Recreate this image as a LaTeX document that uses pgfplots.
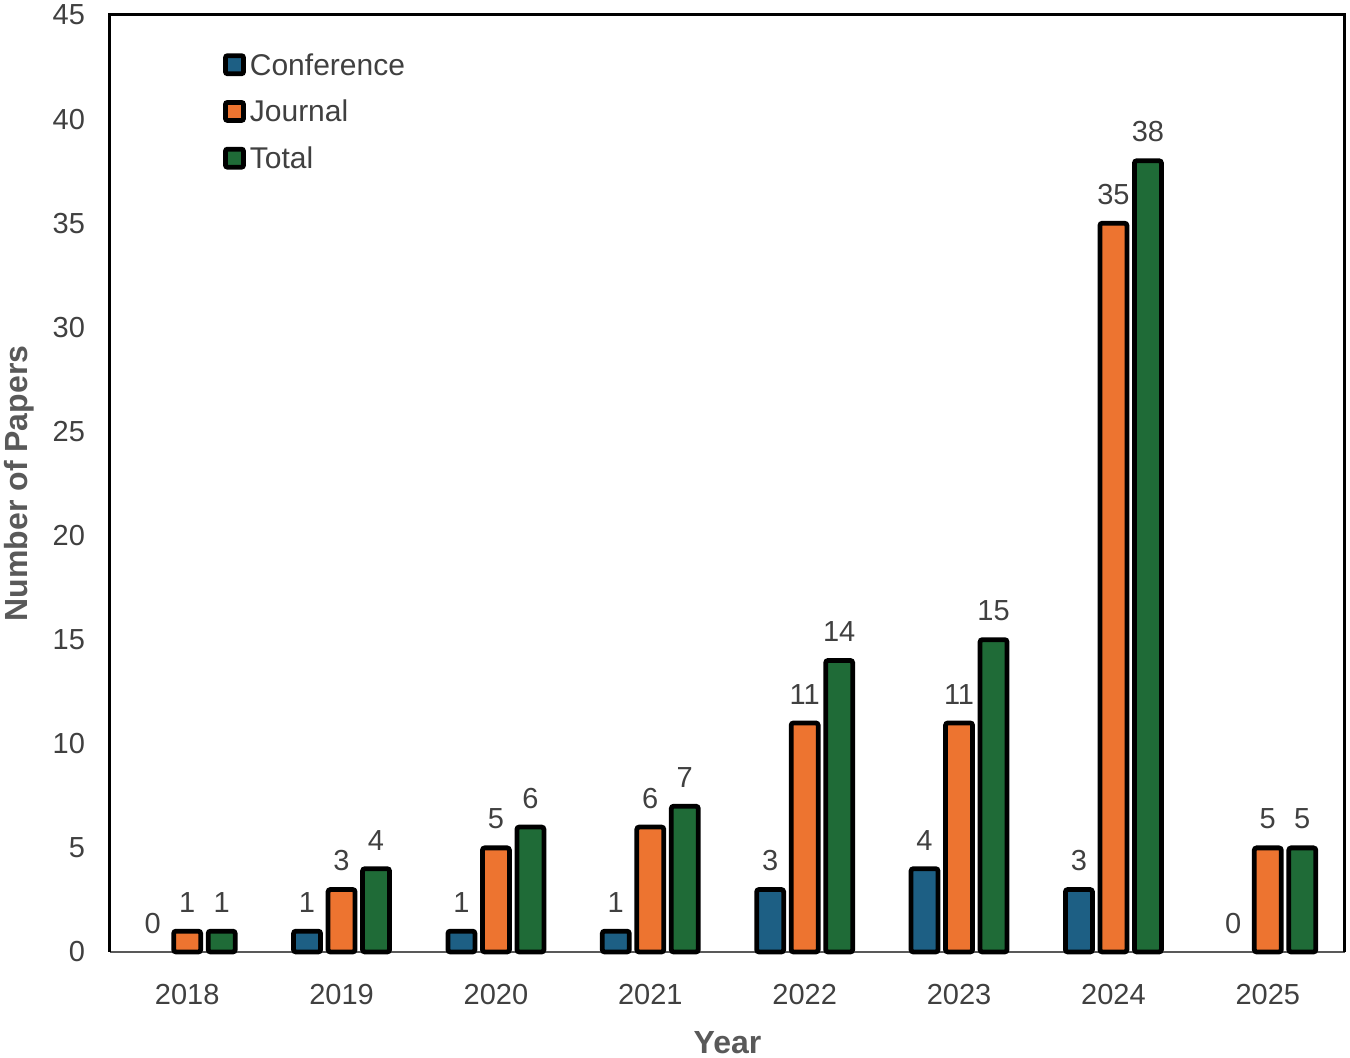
\documentclass[border=0pt]{standalone}
\usepackage{fontspec}
\setmainfont{Liberation Sans}
\usepackage{xcolor}
\usepackage{pgfplots}
\pgfplotsset{compat=1.18}
\pgfkeys{/pgf/number format/assume math mode=true}

\definecolor{confblue}{HTML}{1D5F84}
\definecolor{journorange}{HTML}{ED7430}
\definecolor{totgreen}{HTML}{1F6B37}
\definecolor{ticktext}{HTML}{404040}
\definecolor{labeltext}{HTML}{595959}

\pgfplotsset{
    paperbar/.style={
        ybar, bar width=13.5pt, draw=black, line width=2.4pt,
        rounded corners=1.2pt,
        nodes near coords,
        every node near coord/.append style={font=\fontsize{14.5pt}{16pt}\selectfont, color=ticktext, yshift=6pt, line width=0pt},
        legend image code/.code={
            \draw[##1, line width=2.4pt, rounded corners=1pt] (-4.5pt,-4pt) rectangle (4.5pt,5pt);
        }
    }
}

\begin{document}
\begin{tikzpicture}
    \useasboundingbox (-55pt,-53pt) rectangle (620pt,476pt);
    \begin{axis}[
        at={(0,0)}, anchor=south west,
        scale only axis,
        width=617.5pt, height=468.5pt,
        xmin=-0.5, xmax=7.5,
        ymin=0, ymax=45,
        enlargelimits=false,
        xtick={0,...,7},
        xticklabels={2018,2019,2020,2021,2022,2023,2024,2025},
        ytick={0,5,...,45},
        major tick length=0pt,
        axis line style={draw=none},
        tick label style={font=\fontsize{14.5pt}{16pt}\selectfont, color=ticktext},
        yticklabel style={xshift=-9pt},
        xticklabel style={yshift=-12.5pt},
        xlabel={Year},
        ylabel={Number of Papers},
        xlabel style={at={(axis description cs:0.5,-0.097)}, anchor=center,
            font=\fontsize{16pt}{18pt}\selectfont\bfseries, color=labeltext},
        ylabel style={at={(axis description cs:-0.0735,0.5)}, anchor=center, rotate=0,
            font=\fontsize{16pt}{18pt}\selectfont\bfseries, color=labeltext},
        legend style={
            at={(axis description cs:0.0864,0.968)}, anchor=north west,
            draw=none, fill=none,
            font=\fontsize{15pt}{17pt}\selectfont, text=ticktext,
            row sep=7pt,
            legend cell align=left
        },
        clip=false
    ]
    % bottom line thin grey, other three sides thick black
    \draw[color=labeltext, line width=1pt] (rel axis cs:0,0) -- (rel axis cs:1,0);
    \draw[black, line width=1.5pt] (rel axis cs:0,0) -- (rel axis cs:0,1) -- (rel axis cs:1,1) -- (rel axis cs:1,0);

    \addplot[paperbar, fill=confblue, bar shift=-17.25pt,
        every node near coord/.append style={xshift=-17.25pt}] coordinates {
        (1,1) (2,1) (3,1) (4,3) (5,4) (6,3)
    };
    \addplot[paperbar, fill=journorange, bar shift=0pt] coordinates {
        (0,1) (1,3) (2,5) (3,6) (4,11) (5,11) (6,35) (7,5)
    };
    \addplot[paperbar, fill=totgreen, bar shift=17.25pt,
        every node near coord/.append style={xshift=17.25pt}] coordinates {
        (0,1) (1,4) (2,6) (3,7) (4,14) (5,15) (6,38) (7,5)
    };
    % zero conference counts: label only, no bar
    \addplot[paperbar, draw=none, fill=none, bar shift=-17.25pt, forget plot,
        every node near coord/.append style={xshift=-17.25pt}] coordinates {
        (0,0) (7,0)
    };
    \legend{Conference, Journal, Total}
    \end{axis}
\end{tikzpicture}
\end{document}
